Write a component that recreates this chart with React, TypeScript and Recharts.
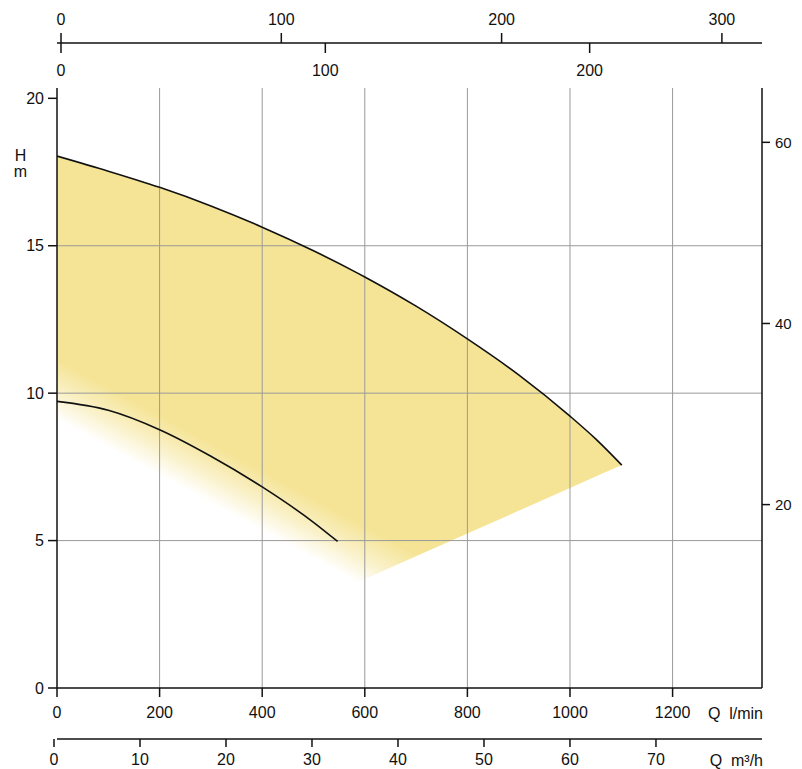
import { ComposedChart, Area, Line, XAxis, YAxis, ReferenceLine } from "recharts";

// upper curve (max speed) and the lower edge of the shaded operating range, l/min -> m
const Q_UPPER = [0, 100, 200, 300, 400, 500, 585, 600, 700, 800, 900, 1000, 1050, 1101];
const H_UPPER = [18.04, 17.53, 16.98, 16.35, 15.63, 14.83, 14.08, 13.94, 12.95, 11.84, 10.62, 9.22, 8.45, 7.56];
const H_EDGE = [9.1, 8.16, 7.21, 6.27, 5.33, 4.38, 3.58, 3.7, 4.47, 5.24, 6.01, 6.78, 7.17, 7.56];

// lower curve (min speed)
const Q_LOWER = [0, 100, 200, 300, 400, 500, 547];
const H_LOWER = [9.72, 9.42, 8.76, 7.86, 6.82, 5.62, 4.97];

const LMIN_TICKS = [0, 200, 400, 600, 800, 1000, 1200];
const M3H_TICKS = [0, 10, 20, 30, 40, 50, 60, 70];
const USGPM_TICKS = [0, 100, 200, 300];
const IMPGPM_TICKS = [0, 100, 200];
const H_TICKS = [0, 5, 10, 15, 20];
const FT_TICKS = [20, 40, 60];
const GRID_Q = [200, 400, 600, 800, 1000, 1200];
const GRID_H = [5, 10, 15];

const FILL = "#f5e496";
const INK = "#111";
const GRID = "#9a9a9a";
const FONT = "'Liberation Sans', Arial, sans-serif";

const bandData = Q_UPPER.map((q, i) => ({ q, band: [H_EDGE[i], H_UPPER[i]] }));
const upperData = Q_UPPER.map((q, i) => ({ q, h: H_UPPER[i] }));
const lowerData = Q_LOWER.map((q, i) => ({ q, h: H_LOWER[i] }));
// empty helper rows so the extra unit axes get their ticks
const tickRows = (ticks: number[]) => ticks.map((t) => ({ t, h: null }));

// fade along the lower-left edge, worked out in the area's bounding box
const qEnd = Q_UPPER[Q_UPPER.length - 1];
const hTop = Math.max(...H_UPPER);
const hBot = Math.min(...H_EDGE);
const iV = H_EDGE.indexOf(hBot);
const p1 = { x: 0, y: (hTop - H_EDGE[0]) / (hTop - hBot) };
const p2 = { x: Q_UPPER[iV] / qEnd, y: 1 };
const dlen = Math.hypot(p2.x - p1.x, p2.y - p1.y);
const FADE = 0.115;
const grad = {
  x1: p1.x,
  y1: p1.y,
  x2: p1.x + ((p2.y - p1.y) / dlen) * FADE,
  y2: p1.y - ((p2.x - p1.x) / dlen) * FADE,
};

const tickStyle = { fontFamily: FONT, fontSize: 16, fill: INK };
const axisLine = { stroke: INK, strokeWidth: 1.5 };

function ImpTick({ x, y, payload }: any) {
  return (
    <g>
      <line x1={x} x2={x} y1={y - 45} y2={y - 35} stroke={INK} strokeWidth={1.5} />
      <text x={x} y={y - 12} textAnchor="middle" style={tickStyle}>{payload.value}</text>
    </g>
  );
}

export default function App() {
  return (
    <div style={{ position: "relative", width: 802, height: 769 }}>
      <style>{"body{margin:0}"}</style>
      <ComposedChart width={802} height={769} margin={{ top: 0, right: 0, bottom: 0, left: 0 }}>
        <defs>
          <linearGradient id="fade" x1={grad.x1} y1={grad.y1} x2={grad.x2} y2={grad.y2}>
            <stop offset="0" stopColor={FILL} stopOpacity={0} />
            <stop offset="0.5" stopColor={FILL} stopOpacity={0.55} />
            <stop offset="1" stopColor={FILL} stopOpacity={1} />
          </linearGradient>
        </defs>
        <XAxis xAxisId="imp" dataKey="t" orientation="top" type="number" height={45} domain={[-1.51, 265.2]} allowDataOverflow
          ticks={IMPGPM_TICKS} interval={0} axisLine={false} tickLine={false} tickSize={0} tickMargin={0} tick={<ImpTick />} />
        <XAxis xAxisId="us" dataKey="t" orientation="top" type="number" height={43} domain={[-1.82, 318.2]} allowDataOverflow
          ticks={USGPM_TICKS} interval={0} axisLine={axisLine} tickLine={axisLine} tickSize={10} tickMargin={8} tick={tickStyle} />
        <XAxis xAxisId="lmin" dataKey="q" type="number" height={51} domain={[0, 1374.3]} allowDataOverflow
          ticks={LMIN_TICKS} interval={0} axisLine={axisLine} tickLine={axisLine} tickSize={9} tickMargin={10} tick={tickStyle} />
        <XAxis xAxisId="m3h" dataKey="t" type="number" height={30} domain={[0.349, 82.33]} allowDataOverflow
          ticks={M3H_TICKS} interval={0} axisLine={axisLine} tickLine={axisLine} tickSize={8} tickMargin={7} tick={tickStyle} />
        <YAxis yAxisId="h" type="number" width={57} domain={[0, 20.35]} allowDataOverflow ticks={H_TICKS} interval={0}
          axisLine={axisLine} tickLine={axisLine} tickSize={9} tickMargin={4} tick={tickStyle} />
        <YAxis yAxisId="ft" orientation="right" type="number" width={40} domain={[-0.25, 66]} allowDataOverflow
          ticks={FT_TICKS} interval={0} axisLine={axisLine} tickLine={axisLine} tickSize={8} tickMargin={5}
          tick={{ ...tickStyle, fontSize: 15 }} />

        <Line xAxisId="imp" yAxisId="h" data={tickRows(IMPGPM_TICKS)} dataKey="h" stroke="none" dot={false} isAnimationActive={false} />
        <Line xAxisId="us" yAxisId="h" data={tickRows(USGPM_TICKS)} dataKey="h" stroke="none" dot={false} isAnimationActive={false} />
        <Line xAxisId="m3h" yAxisId="h" data={tickRows(M3H_TICKS)} dataKey="h" stroke="none" dot={false} isAnimationActive={false} />

        <Area xAxisId="lmin" yAxisId="h" data={bandData} dataKey="band" type="linear"
          stroke="none" fill="url(#fade)" fillOpacity={1} isAnimationActive={false} />

        {GRID_Q.map((q) => (
          <ReferenceLine key={"gx" + q} xAxisId="lmin" yAxisId="h" x={q} stroke={GRID} strokeWidth={1} />
        ))}
        {GRID_H.map((h) => (
          <ReferenceLine key={"gy" + h} xAxisId="lmin" yAxisId="h" y={h} stroke={GRID} strokeWidth={1} />
        ))}

        <Line xAxisId="lmin" yAxisId="h" data={upperData} dataKey="h" type="monotone"
          stroke={INK} strokeWidth={1.6} dot={false} isAnimationActive={false} />
        <Line xAxisId="lmin" yAxisId="h" data={lowerData} dataKey="h" type="monotone"
          stroke={INK} strokeWidth={1.6} dot={false} isAnimationActive={false} />
      </ComposedChart>

      <svg width={802} height={769} style={{ position: "absolute", left: 0, top: 0, pointerEvents: "none" }}>
        <g style={{ fontFamily: FONT, fontSize: 16, fill: INK }}>
          <text x={20.5} y={161} textAnchor="middle">H</text>
          <text x={20.5} y={177} textAnchor="middle">m</text>
          <text x={763} y={719} textAnchor="end" style={{ whiteSpace: "pre" }}>{"Q  l/min"}</text>
          <text x={763} y={766} textAnchor="end" style={{ whiteSpace: "pre" }}>{"Q  m³/h"}</text>
        </g>
      </svg>
    </div>
  );
}
